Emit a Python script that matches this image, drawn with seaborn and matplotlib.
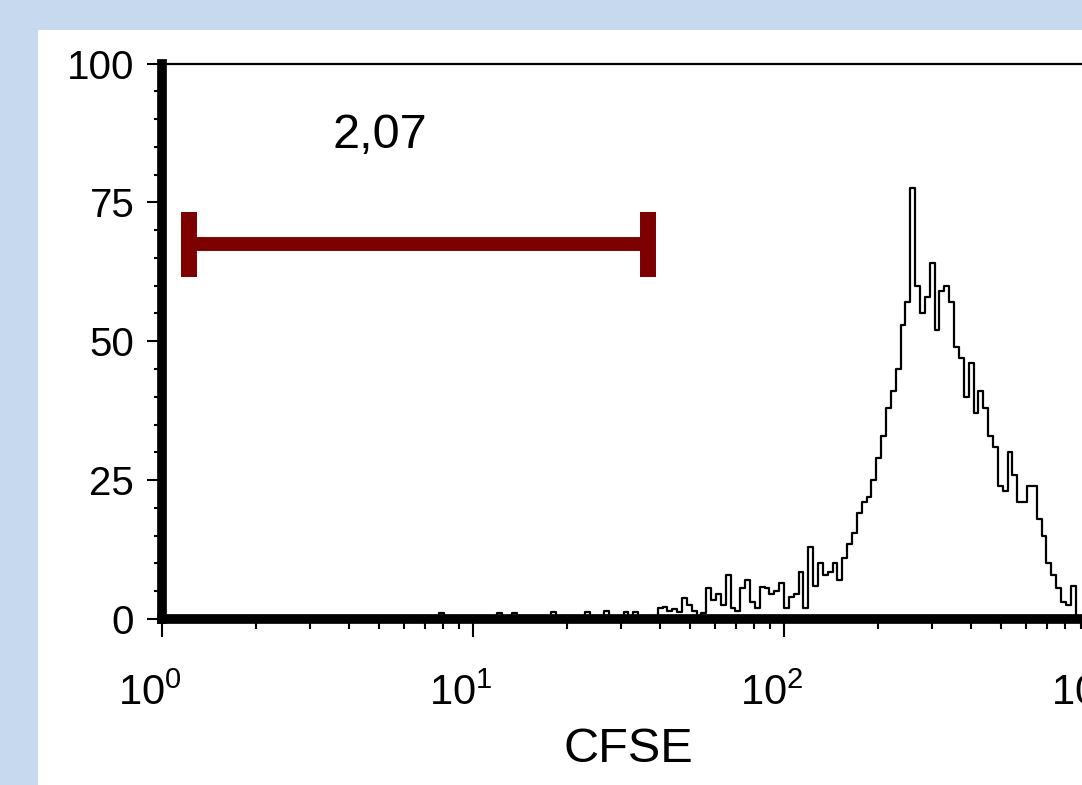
import numpy as np
import pandas as pd
import matplotlib
matplotlib.use("Agg")
import matplotlib.pyplot as plt
import matplotlib.transforms as mtransforms
import seaborn as sns
from matplotlib.ticker import LogLocator, LogFormatterSciNotation, MultipleLocator, NullFormatter
from matplotlib.patches import Rectangle

# ---------------- data ----------------
first_bin_exp = 0.875      # log10 of first bin's left edge
bins_per_decade = 64
counts = [
    0, 1.0, 0, 0, 0, 0, 0, 0, 0, 0, 0, 0, 0, 1.0, 0, 0, 1.0, 0.5, 0, 0,
    0, 0, 0, 0, 1.2, 0, 0, 0, 0, 0, 0, 1.3, 0.3, 0, 0.5, 1.5, 0, 0, 0.3, 1.3,
    0, 1.2, 0, 0, 0.5, 0.3, 2.0, 2.2, 1.5, 1.8, 1.2, 3.8, 2.5, 1.5, 0.5, 1.0,
    5.5, 3.5, 4.5, 2.5, 8.0, 2.0, 1.5, 5.5, 7.0, 3.0, 2.0, 5.7, 5.5, 4.5, 5.0,
    6.5, 2.0, 4.0, 4.5, 8.5, 2.0, 13.0, 6.0, 10.0, 8.0, 8.5, 10.0, 7.0, 11.0,
    13.5, 15.5, 19.0, 21.0, 22.0, 25.0, 29.0, 33.0, 38.0, 41.0, 45.0, 53.0,
    57.0, 77.5, 60.0, 55.0, 58.0, 64.0, 52.0, 59.0, 60.0, 57.0, 49.0, 47.0,
    40.0, 46.0, 37.0, 41.0, 38.0, 33.0, 31.0, 24.0, 23.0, 30.0, 26.0, 21.0,
    21.0, 24.0, 24.0, 18.0, 15.0, 10.0, 8.0, 5.5, 3.0, 2.5, 6.0, 0.5, 0, 0, 0,
]
y_ticks = [0, 25, 50, 75, 100]
x_label = "CFSE"
gate_low = 1.217
gate_high = 36.5
gate_y = 67.5
gate_cap_half = 5.85
gate_text = "2,07"
gate_text_x = 5.02
gate_text_y = 84.8

# ---------------- style ----------------
sns.set_style("ticks")
plt.rcParams["font.family"] = ["Liberation Sans", "DejaVu Sans"]
plt.rcParams["mathtext.default"] = "regular"
plt.rcParams["text.color"] = "black"
plt.rcParams["xtick.color"] = "black"
plt.rcParams["ytick.color"] = "black"
plt.rcParams["axes.labelcolor"] = "black"

fig = plt.figure(figsize=(10.82, 7.85), dpi=100)
fig.patch.set_facecolor("#c6d9ef")
panel = Rectangle((38 / 1082, 0), 1.0, (785 - 30) / 785,
                  transform=fig.transFigure, facecolor="white",
                  edgecolor="none", zorder=-10)
fig.add_artist(panel)

ax = fig.add_axes([162 / 1082, (785 - 619) / 785, 1244 / 1082, 555.5 / 785])
ax.set_zorder(5)
ax.set_facecolor("white")
ax.set_xscale("log")

edges = 10 ** (first_bin_exp + np.arange(len(counts) + 1) / bins_per_decade)
df = pd.DataFrame({"cfse": edges, "count": counts + [counts[-1]]})
sns.lineplot(data=df, x="cfse", y="count", drawstyle="steps-post",
             color="black", lw=1.6, estimator=None, ax=ax)

# gate marker
gate_color = "#7f0000"
ax.plot([gate_low, gate_high], [gate_y, gate_y], color=gate_color, lw=10,
        solid_capstyle="butt", zorder=3)
for gx in (gate_low, gate_high):
    ax.plot([gx, gx], [gate_y - gate_cap_half, gate_y + gate_cap_half],
            color=gate_color, lw=11.5, solid_capstyle="butt", zorder=3)
ax.text(gate_text_x, gate_text_y, gate_text, ha="center", va="baseline",
        fontsize=35, color="black")

ax.set_xlim(1, 1e4)
ax.set_ylim(0, 100)

ax.xaxis.set_major_locator(LogLocator(base=10, numticks=10))
ax.xaxis.set_major_formatter(LogFormatterSciNotation())
ax.xaxis.set_minor_locator(LogLocator(base=10, subs=np.arange(2, 10), numticks=100))
ax.xaxis.set_minor_formatter(NullFormatter())
ax.set_yticks(y_ticks)
ax.yaxis.set_minor_locator(MultipleLocator(5))

ax.tick_params(axis="x", which="major", direction="out", length=13, width=1.5,
               labelsize=30, pad=26, color="black", labelcolor="black")
ax.tick_params(axis="x", which="minor", direction="out", length=7, width=1.5,
               color="black")
ax.tick_params(axis="y", which="major", direction="out", length=11, width=1.5,
               labelsize=29, pad=9, color="black", labelcolor="black")
ax.tick_params(axis="y", which="minor", direction="out", length=6, width=1.5,
               color="black")

for side in ("left", "bottom"):
    ax.spines[side].set_linewidth(7)
    ax.spines[side].set_color("black")
for side in ("top", "right"):
    ax.spines[side].set_visible(True)
    ax.spines[side].set_linewidth(1.6)
    ax.spines[side].set_color("black")

ax.set_ylabel("")
ax.set_xlabel(x_label, fontsize=35, color="black")
ax.xaxis.label.set_va("baseline")
ax.xaxis.set_label_coords((628 - 162) / 1244, (619 - 762) / 555.5)

# shift x tick labels slightly left, as in the reference
fig.canvas.draw()
shift = mtransforms.ScaledTranslation(-12 / 100, 0, fig.dpi_scale_trans)
for tick in ax.xaxis.get_major_ticks():
    tick.label1.set_transform(tick.label1.get_transform() + shift)

fig.savefig("out.png", dpi=100, facecolor=fig.get_facecolor())
